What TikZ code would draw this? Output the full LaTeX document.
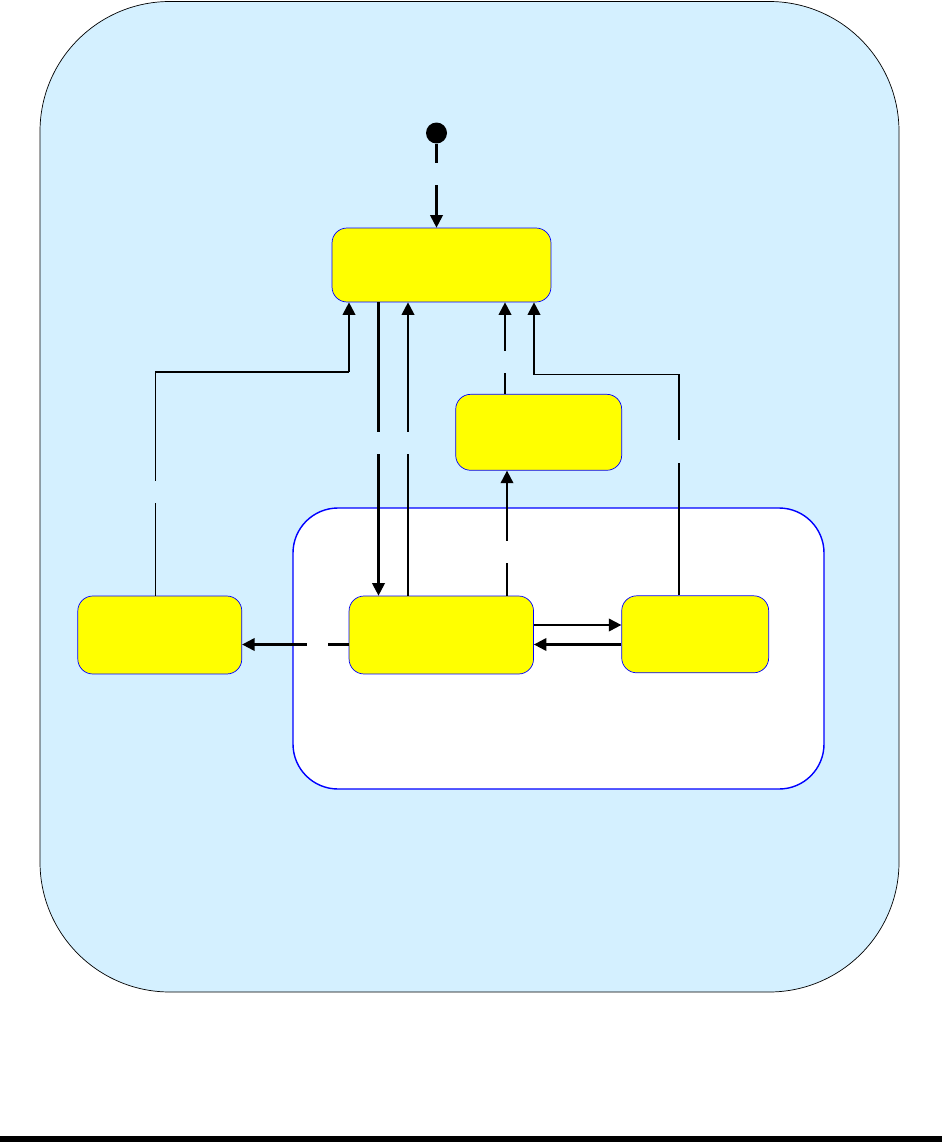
\documentclass[tikz,border=0pt]{standalone}
\usepackage{xcolor}
\usetikzlibrary{arrows, arrows.meta}
\usetikzlibrary{calc}
\definecolor{bgblue}{RGB}{212,240,255}
\definecolor{stateyellow}{RGB}{255,255,0}
\definecolor{stateblue}{RGB}{0,0,255}

\begin{document}
\begin{tikzpicture}[x=0.02cm, y=-0.02cm,
    state/.style={draw=stateblue, fill=stateyellow, rounded corners=0.3cm, inner sep=0pt},
    arr/.style={line width=1.2pt, -{Triangle[length=0.25cm, width=0.25cm]}},
    wire/.style={line width=0.6pt},
    gapv/.style={fill=bgblue, inner sep=0pt, minimum width=5pt, minimum height=0.45cm},
    gaph/.style={fill=white, inner sep=0pt, minimum width=0.42cm, minimum height=5pt}]
          \useasboundingbox (0,0) rectangle (942,1142);
          \draw[fill=bgblue, rounded corners=2.6cm] (40,1.5) rectangle (899,992);
          \draw[stateblue, fill=white, line width=0.8pt, rounded corners=0.9cm] (293,508) rectangle (824,789);
          \fill (0,1136) rectangle (942,1142);

          \node[circle, fill=black, inner sep=0pt, minimum size=0.42cm] (init) at (436.5,133) {};
          \node[state, minimum width=4.38cm, minimum height=1.48cm] (A) at (441.5,265) {};
          \node[state, minimum width=3.32cm, minimum height=1.52cm] (S) at (538.7,432.3) {};
          \node[state, minimum width=3.28cm, minimum height=1.56cm] (L) at (159.8,635) {};
          \node[state, minimum width=3.69cm, minimum height=1.56cm] (M) at (441.3,635) {};
          \node[state, minimum width=2.94cm, minimum height=1.54cm] (R) at (695.2,634.3) {};

          % columns and rows of the connectors
          \coordinate (c1) at (378.5,0);
          \coordinate (c2) at (408,0);
          \coordinate (c3) at (505,0);
          \coordinate (c4) at (507,0);
          \coordinate (c6) at (155.5,0);
          \coordinate (c8) at (679,0);
          \coordinate (r1) at (0,625);
          \coordinate (r2) at (0,644.5);
          \coordinate (lc) at (349,372);
          \coordinate (rc) at (534,374.5);

          \draw[arr] (init) -- node[gapv, pos=0.36] {} (init |- A.north);
          \draw[arr] (A.south -| c1) -- node[gapv, pos=0.48] {} (M.north -| c1);
          \draw[arr] (M.north -| c2) -- node[gapv, pos=0.52] {} (A.south -| c2);
          \draw[arr] (S.north -| c3) -- node[gapv, pos=0.35] {} (A.south -| c3);
          \draw[arr] (M.north -| c4) -- node[gapv, fill=white, pos=0.35] {} (S.south -| c4);
          \draw[wire] (L.north -| c6) |- node[gapv, pos=0.232] {} (lc);
          \draw[arr] (lc) -- (A.south -| lc);
          \draw[wire] (R.north -| c8) |- node[gapv, pos=0.326] {} (rc);
          \draw[arr] (rc) -- (A.south -| rc);
          \draw[arr] (M.east |- r1) -- (R.west |- r1);
          \draw[arr] (R.west |- r2) -- (M.east |- r2);
          \draw[arr] (M.west |- r2) -- node[gaph, pos=0.29] {} (L.east |- r2);
        \end{tikzpicture}
\end{document}
